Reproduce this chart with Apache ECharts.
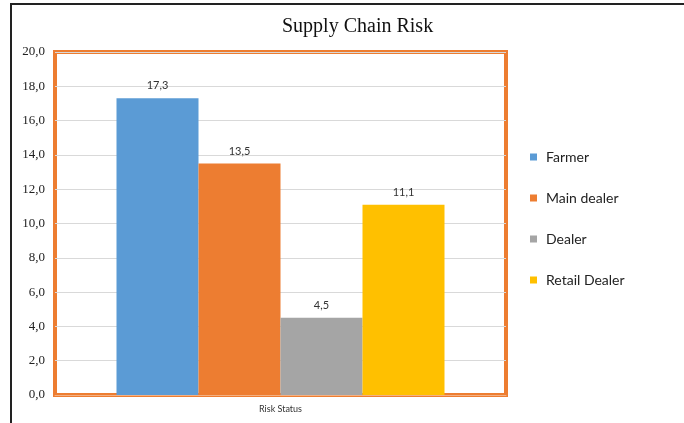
<!DOCTYPE html>
<html lang="en">
<head>
    <meta charset="UTF-8">
    <title>Supply Chain Risk</title>
    <script src="https://cdn.jsdelivr.net/npm/echarts@6/dist/echarts.min.js"></script>
    <style>body{margin:0;background:#fff}</style>
</head>
<body>
<div id="main" style="width: 684px; height: 423px"></div>
</body>
<script>
    let categories = ['Risk Status'];
    let seriesNames = ['Farmer', 'Main dealer', 'Dealer', 'Retail Dealer'];
    let values = [17.3, 13.5, 4.5, 11.1];
    let colors = ['#5B9BD5', '#ED7D31', '#A5A5A5', '#FFC000'];
    let yTicks = {min: 0, max: 20, interval: 2};

    function comma(v) {
        return v.toFixed(1).replace('.', ',');
    }

    let myChart = echarts.init(document.getElementById('main'));
    let series = seriesNames.map(function (name, i) {
        return {
            name: name,
            type: 'bar',
            data: [values[i]],
            barWidth: 82,
            barGap: '0%',
            itemStyle: {color: colors[i]},
            label: {
                show: true,
                position: 'top',
                distance: 7,
                formatter: function (p) { return comma(p.value); },
                color: '#333',
                fontSize: 11,
                fontFamily: 'Lato'
            },
            animation: false
        };
    });

    let option = {
        title: {
            text: 'Supply Chain Risk',
            left: 277,
            top: 12,
            textStyle: {
                fontFamily: 'Liberation Serif',
                fontWeight: 'normal',
                fontSize: 20,
                color: '#111'
            }
        },
        legend: {
            orient: 'vertical',
            left: 525,
            top: 145,
            itemWidth: 7,
            itemHeight: 7,
            itemGap: 27,
            icon: 'rect',
            data: seriesNames,
            textStyle: {fontFamily: 'Lato', fontSize: 14, color: '#222', padding: [0, 0, 0, 4]}
        },
        grid: {
            left: 55,
            right: 178,
            top: 52,
            bottom: 28,
            show: true,
            borderColor: '#ED7D31',
            borderWidth: 4,
            containLabel: false
        },
        xAxis: {
            type: 'category',
            data: categories,
            axisTick: {show: false},
            axisLine: {lineStyle: {color: '#F4B183', width: 1}},
            axisLabel: {fontFamily: 'Lato', fontSize: 9, color: '#333', margin: 10}
        },
        yAxis: {
            type: 'value',
            min: yTicks.min,
            max: yTicks.max,
            interval: yTicks.interval,
            axisLine: {show: false},
            axisTick: {show: false},
            splitLine: {lineStyle: {color: '#D9D9D9'}},
            axisLabel: {
                formatter: comma,
                fontFamily: 'Liberation Serif',
                fontSize: 13,
                color: '#222',
                margin: 10
            }
        },
        graphic: [
            {type: 'line', shape: {x1: 11, y1: 4, x2: 11, y2: 423}, style: {stroke: '#222', lineWidth: 2}},
            {type: 'line', shape: {x1: 10, y1: 4, x2: 684, y2: 4}, style: {stroke: '#222', lineWidth: 2}}
        ],
        series: series
    };
    myChart.setOption(option);
</script>
</html>
